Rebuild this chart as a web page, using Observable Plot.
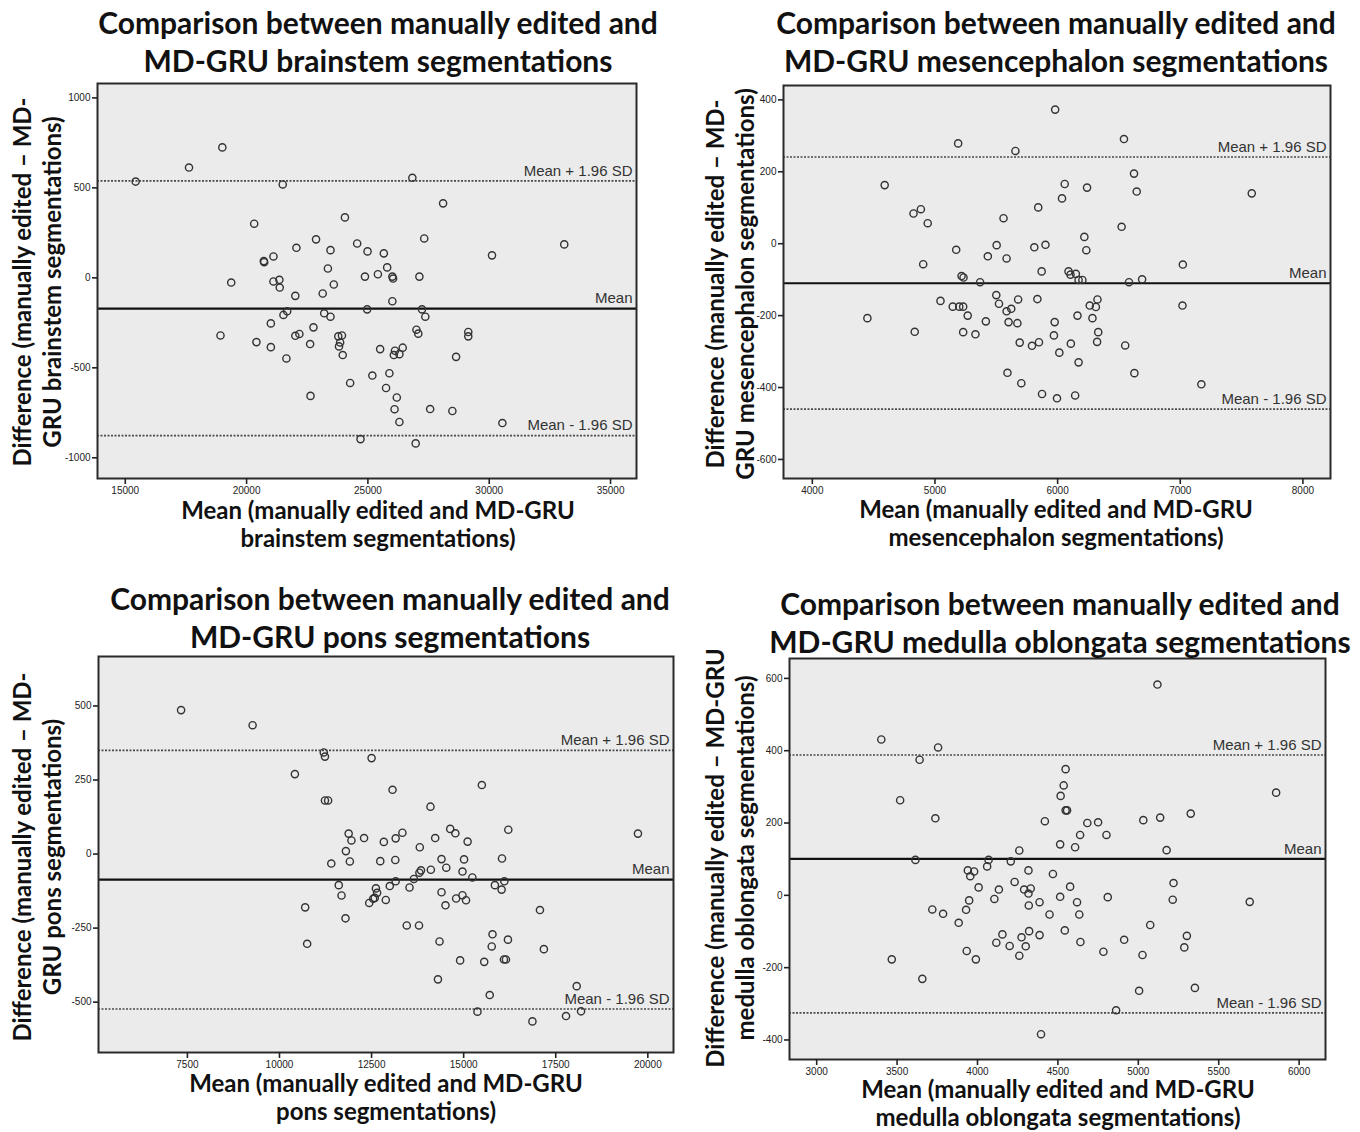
<!DOCTYPE html>
<html>
<head>
<meta charset="utf-8">
<script src="https://cdn.jsdelivr.net/npm/d3@7"></script>
<script src="https://cdn.jsdelivr.net/npm/@observablehq/plot@0.6"></script>
<style>
  body { margin: 0; background: #fff; }
  #root { position: relative; width: 1360px; height: 1132px; overflow: hidden; background: #fff; }
  .ttl { position: absolute; font-family: Lato, "Open Sans", sans-serif; font-weight: 700; color: #111; text-align: center; white-space: nowrap; }
  .plotbox { position: absolute; }
</style>
</head>
<body>
<div id="root"></div>
<script>
// ---------- DATA ----------
// Brainstem
const brainstemMean = [15427,17626,19000,21489,26832,28099,20313,24053,22863,22053,23458,24557,24985,25656,27321,33092,30115,21107,20710,20725,23351,25794,25412,24878,26008,26038,27122,19366,21107,21351,21366,23595,23137,22008,26008,24969,27229,27366,21672,21519,23198,23458,21000,22756,27000,27076,29137,29137,18924,20405,22008,22176,21000,21641,22618,23779,23931,23809,23855,23962,25504,26115,26435,26069,26298,28634,25183,24267,25885,25748,22634,26191,26099,27565,28481,26298,30542,24695,26969];
const brainstemDiff = [535,613,725,519,556,414,301,336,214,167,154,191,147,136,219,186,125,119,93,87,52,58,20,7,7,-4,7,-26,-20,-11,-54,-37,-87,-100,-130,-175,-175,-216,-186,-206,-197,-216,-253,-275,-288,-310,-301,-325,-320,-357,-322,-312,-385,-448,-368,-325,-320,-381,-359,-429,-396,-405,-388,-429,-424,-439,-543,-584,-530,-612,-656,-665,-730,-729,-740,-801,-807,-896,-920];
const brainstemLines = [-171, 539, -877]; // mean, mean+1.96SD, mean-1.96SD
const brainstemXTicks = [15000, 20000, 25000, 30000, 35000];
const brainstemYTicks = [-1000, -500, 0, 500, 1000];

// Mesencephalon
const mesMean = [5980,5189,5656,6541,6623,4590,6058,6240,6645,7583,6036,4885,4825,5842,4941,5559,6522,6218,5503,5901,5810,5173,6234,5431,5584,4904,7021,5870,6089,6105,6149,5217,5233,6171,6202,5368,6582,6689,5045,5500,5522,5835,5678,6325,5145,5198,5230,5622,5584,6262,6312,7018,4449,5267,6162,6284,5415,5600,5672,5976,4835,5230,5330,6331,5970,5691,5791,5848,6108,6322,6551,6014,6171,5591,6626,5704,7172,5873,6143,5995];
const mesDiff = [373,279,258,291,195,163,166,156,145,140,126,96,84,101,57,71,47,19,-4,-3,-10,-17,-18,-35,-41,-57,-58,-77,-77,-86,-84,-90,-94,-101,-101,-107,-107,-99,-159,-143,-167,-154,-155,-155,-175,-175,-175,-181,-188,-172,-176,-172,-207,-200,-200,-207,-216,-218,-221,-218,-245,-246,-252,-246,-255,-275,-284,-274,-278,-273,-283,-303,-330,-359,-360,-388,-391,-418,-422,-430];
const mesLines = [-110, 241, -460];
const mesXTicks = [4000, 5000, 6000, 7000, 8000];
const mesYTicks = [-600, -400, -200, 0, 200, 400];

// Pons
const ponsMean = [7328,9270,11202,11234,12500,10418,15494,13069,11234,11320,14099,16212,14635,14775,19732,11878,13337,12296,13154,14227,11953,12833,15107,13809,11803,11406,11910,12736,13144,14399,15011,16041,14109,13841,14528,14968,15236,13798,13648,13154,16105,13530,12994,12618,12650,11609,15848,16030,14399,11684,12586,12543,12886,12436,14968,14796,15064,14506,10697,17071,11792,13455,13788,10751,14345,15783,15762,16202,17178,14904,15558,16094,16148,14302,15708,18069,15375,16867,17779,18187];
const ponsDiff = [486,435,343,329,324,270,233,217,181,181,160,82,85,70,69,69,72,54,53,54,46,41,42,23,10,-32,-25,-24,-20,-17,-18,-15,-53,-55,-46,-59,-79,-63,-84,-92,-92,-113,-108,-116,-131,-105,-105,-120,-129,-140,-148,-151,-155,-165,-139,-150,-156,-173,-180,-189,-217,-241,-241,-303,-295,-271,-312,-289,-321,-359,-364,-356,-356,-423,-476,-446,-532,-565,-547,-531];
const ponsLines = [-86, 350, -523];
const ponsXTicks = [7500, 10000, 12500, 15000, 17500, 20000];
const ponsYTicks = [-500, -250, 0, 250, 500];

// Medulla oblongata
const medMean = [5119,3402,3755,3640,4548,4536,5857,4517,3519,4548,4557,3738,5136,5326,5031,4419,4683,4750,4638,4802,4514,4607,4260,5176,3614,4069,4207,4060,4317,3940,3979,3955,4469,4231,5219,4007,4133,4290,4331,4576,4317,4514,4810,3948,4105,5214,4619,4386,4319,5693,3719,3929,3786,4448,4633,3883,5074,4321,4543,4155,4386,4274,5302,4912,4117,4640,4200,4300,5286,3933,4783,4260,5026,3467,3990,3657,5352,5005,4862,4395];
const medDiff = [583,431,409,375,349,304,284,275,263,235,235,213,215,226,208,205,200,202,167,167,141,133,124,125,98,98,94,80,69,69,66,53,59,37,34,22,16,16,19,24,5,-4,-5,-14,-10,-12,-19,-19,-28,-18,-39,-40,-51,-53,-53,-76,-82,-99,-97,-108,-110,-116,-112,-123,-131,-129,-140,-141,-144,-154,-156,-167,-165,-177,-177,-231,-256,-264,-318,-384];
const medLines = [101, 388, -325];
const medXTicks = [3000, 3500, 4000, 4500, 5000, 5500, 6000];
const medYTicks = [-400, -200, 0, 200, 400, 600];

const lineLabels = ["Mean", "Mean + 1.96 SD", "Mean - 1.96 SD"];

// ---------- LAYOUT ----------
const panels = [
  {
    mean: brainstemMean, diff: brainstemDiff, lines: brainstemLines,
    xTicks: brainstemXTicks, yTicks: brainstemYTicks,
    xDomain: [13855, 36070], yDomain: [-1115, 1080],
    frame: {l: 97, r: 636, t: 83, b: 478},
    title: ["Comparison between manually edited and", "MD-GRU brainstem segmentations"], titlePos: [378, 3],
    xTitle: ["Mean (manually edited and MD-GRU", "brainstem segmentations)"], xTitlePos: [378, 496],
    yTitle: ["Difference (manually edited \u2013 MD-", "GRU brainstem segmentations)"], yTitlePos: [37, 282]
  },
  {
    mean: mesMean, diff: mesDiff, lines: mesLines,
    xTicks: mesXTicks, yTicks: mesYTicks,
    xDomain: [3765, 8225], yDomain: [-653, 440],
    frame: {l: 783, r: 1330, t: 85, b: 478},
    title: ["Comparison between manually edited and", "MD-GRU mesencephalon segmentations"], titlePos: [1056, 3],
    xTitle: ["Mean (manually edited and MD-GRU", "mesencephalon segmentations)"], xTitlePos: [1056, 495],
    yTitle: ["Difference (manually edited \u2013 MD-", "GRU mesencephalon segmentations)"], yTitlePos: [730, 284]
  },
  {
    mean: ponsMean, diff: ponsDiff, lines: ponsLines,
    xTicks: ponsXTicks, yTicks: ponsYTicks,
    xDomain: [5086, 20697], yDomain: [-670, 667],
    frame: {l: 98, r: 673, t: 656, b: 1052},
    title: ["Comparison between manually edited and", "MD-GRU pons segmentations"], titlePos: [390, 579],
    xTitle: ["Mean (manually edited and MD-GRU", "pons segmentations)"], xTitlePos: [386, 1069],
    yTitle: ["Difference (manually edited \u2013 MD-", "GRU pons segmentations)"], yTitlePos: [37, 857]
  },
  {
    mean: medMean, diff: medDiff, lines: medLines,
    xTicks: medXTicks, yTicks: medYTicks,
    xDomain: [2831, 6164], yDomain: [-454, 655],
    frame: {l: 789, r: 1325, t: 658, b: 1059},
    title: ["Comparison between manually edited and", "MD-GRU medulla oblongata segmentations"], titlePos: [1060, 584],
    xTitle: ["Mean (manually edited and MD-GRU", "medulla oblongata segmentations)"], xTitlePos: [1058, 1075],
    yTitle: ["Difference (manually edited \u2013 MD-GRU", "medulla oblongata segmentations)"], yTitlePos: [730, 858]
  }
];

const root = document.getElementById("root");

function addText(lines, cx, top, size, lh) {
  const d = document.createElement("div");
  d.className = "ttl";
  d.style.fontSize = size + "px";
  d.style.lineHeight = lh + "px";
  d.style.left = (cx - 400) + "px";
  d.style.width = "800px";
  d.style.top = top + "px";
  d.innerHTML = lines.join("<br>");
  root.appendChild(d);
}

function addRotText(lines, cx, cy, size, lh) {
  const d = document.createElement("div");
  d.className = "ttl";
  d.style.fontSize = size + "px";
  d.style.lineHeight = lh + "px";
  const w = 600, h = lh * lines.length;
  d.style.width = w + "px";
  d.style.height = h + "px";
  d.style.left = (cx - w / 2) + "px";
  d.style.top = (cy - h / 2) + "px";
  d.style.transform = "rotate(-90deg)";
  d.innerHTML = lines.join("<br>");
  root.appendChild(d);
}

const fmt = d => String(d);

for (const p of panels) {
  const mL = 60, mT = 10, mR = 6, mB = 18;
  const svgLeft = p.frame.l - mL, svgTop = p.frame.t - mT;
  const width = p.frame.r - svgLeft + mR;
  const height = p.frame.b - svgTop + mB;
  const pts = p.mean.map((m, i) => ({m, d: p.diff[i]}));
  const lineData = p.lines.map((v, i) => ({v, label: lineLabels[i]}));
  const xMax = p.xDomain[1];

  const chart = Plot.plot({
    width, height,
    marginLeft: mL, marginTop: mT, marginRight: mR, marginBottom: mB,
    style: {fontFamily: "'Liberation Sans', Arial, sans-serif", fontSize: "10px", color: "#222", background: "transparent", overflow: "visible"},
    x: {domain: p.xDomain},
    y: {domain: p.yDomain},
    marks: [
      Plot.frame({fill: "#ebebeb", stroke: "none"}),
      Plot.ruleY(lineData.slice(1), {y: "v", stroke: "#4a4a4a", strokeWidth: 1.6, strokeDasharray: "2,1.5"}),
      Plot.ruleY(lineData.slice(0, 1), {y: "v", stroke: "#111", strokeWidth: 2.2}),
      Plot.text(lineData, {x: () => xMax, y: "v", text: "label", textAnchor: "end", dx: -4, dy: -10, fontSize: 15, fill: "#333"}),
      Plot.dot(pts, {x: "m", y: "d", r: 3.6, stroke: "#333", strokeWidth: 1.4, fill: "none"}),
      Plot.frame({stroke: "#2a2a2a", strokeWidth: 2}),
      Plot.axisX({ticks: p.xTicks, tickFormat: fmt, tickSize: 6, tickPadding: 2, label: null, stroke: "#222", strokeWidth: 1.6}),
      Plot.axisY({ticks: p.yTicks, tickFormat: fmt, tickSize: 5, tickPadding: 2, label: null, stroke: "#222", strokeWidth: 1.6})
    ]
  });
  const box = document.createElement("div");
  box.className = "plotbox";
  box.style.left = svgLeft + "px";
  box.style.top = svgTop + "px";
  box.appendChild(chart);
  root.appendChild(box);

  addText(p.title, p.titlePos[0], p.titlePos[1], 30, 38);
  addText(p.xTitle, p.xTitlePos[0], p.xTitlePos[1], 24, 28);
  addRotText(p.yTitle, p.yTitlePos[0], p.yTitlePos[1], 24, 30);
}
</script>
</body>
</html>
